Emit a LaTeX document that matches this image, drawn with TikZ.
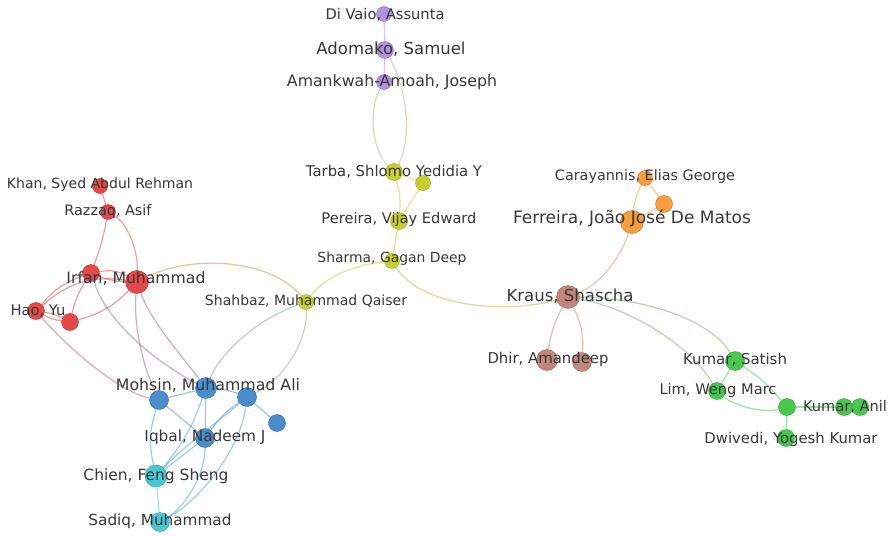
\documentclass[tikz,border=0pt]{standalone}
\usepackage{fontspec}
\setmainfont{DejaVu Sans}
\usepackage{graphicx}
\definecolor{cpur}{RGB}{176,140,222}
\definecolor{cyel}{RGB}{196,204,40}
\definecolor{cred}{RGB}{226,64,64}
\definecolor{cblu}{RGB}{66,135,200}
\definecolor{ccya}{RGB}{64,196,210}
\definecolor{cora}{RGB}{246,152,52}
\definecolor{cbrn}{RGB}{192,128,118}
\definecolor{cgrn}{RGB}{64,196,72}
\definecolor{labc}{RGB}{55,55,55}
\newcommand{\lab}[2]{\resizebox{#1pt}{!}{#2}}
\pgfdeclarelayer{bg}
\pgfdeclarelayer{edges}
\pgfsetlayers{bg,edges,main}
\tikzset{
  dot/.style={circle, inner sep=0pt, fill=#1, draw=#1!80!black, line width=0.4pt, fill opacity=0.95},
  edge/.style={draw=#1, line width=1.2pt, draw opacity=0.5},
  lbl/.style={inner sep=0pt, text=labc}
}
\begin{document}
\begin{tikzpicture}[x=1pt,y=-1pt]
\begin{pgfonlayer}{bg}
\fill[white] (0,0) rectangle (889,536);
\end{pgfonlayer}
\useasboundingbox (0,0) rectangle (889,536);
% ---------- nodes (circles)
\node[dot=cpur, minimum size=15pt] (p1) at (384,14) {};
\node[dot=cpur, minimum size=17pt] (p2) at (385,50) {};
\node[dot=cpur, minimum size=15pt] (p3) at (384,82) {};
\node[dot=cyel, minimum size=17pt] (y1) at (394,172) {};
\node[dot=cyel, minimum size=15pt] (y2) at (423,183) {};
\node[dot=cyel, minimum size=17pt] (y3) at (399,221) {};
\node[dot=cyel, minimum size=15pt] (y4) at (392,261) {};
\node[dot=cyel, minimum size=15pt] (y5) at (306,302) {};
\node[dot=cred, minimum size=15pt] (r1) at (100,186) {};
\node[dot=cred, minimum size=15pt] (r2) at (108,212) {};
\node[dot=cred, minimum size=17pt] (r3) at (91,273) {};
\node[dot=cred, minimum size=23pt] (r4) at (137,282) {};
\node[dot=cred, minimum size=17pt] (r5) at (36,311) {};
\node[dot=cred, minimum size=17pt] (r6) at (70,322) {};
\node[dot=cblu, minimum size=21pt] (b1) at (206,388) {};
\node[dot=cblu, minimum size=19pt] (b2) at (159,400) {};
\node[dot=cblu, minimum size=19pt] (b3) at (247,397) {};
\node[dot=cblu, minimum size=17pt] (b4) at (277,423) {};
\node[dot=cblu, minimum size=19pt] (b5) at (205,438) {};
\node[dot=ccya, minimum size=22pt] (c1) at (156,476) {};
\node[dot=ccya, minimum size=19pt] (c2) at (160,522) {};
\node[dot=cora, minimum size=15pt] (o1) at (645,178) {};
\node[dot=cora, minimum size=17pt] (o2) at (664,204) {};
\node[dot=cora, minimum size=23pt] (o3) at (632,222) {};
\node[dot=cbrn, minimum size=23pt] (k1) at (568,297) {};
\node[dot=cbrn, minimum size=21pt] (k2) at (547,360) {};
\node[dot=cbrn, minimum size=19pt] (k3) at (582,362) {};
\node[dot=cgrn, minimum size=19pt] (g1) at (735,361) {};
\node[dot=cgrn, minimum size=17pt] (g2) at (717,391) {};
\node[dot=cgrn, minimum size=17pt] (g3) at (787,407) {};
\node[dot=cgrn, minimum size=17pt] (g4) at (844,407) {};
\node[dot=cgrn, minimum size=17pt] (g5) at (860,407) {};
\node[dot=cgrn, minimum size=17pt] (g6) at (786,438) {};
% ---------- edges
\begin{pgfonlayer}{edges}
\draw[edge=cpur] (p1) -- (p2);
\draw[edge=cpur] (p2) -- (p3);
\draw[edge=cpur!50!cyel] (p3) .. controls (368,110) and (372,150) .. (y1);
\draw[edge=cpur!50!cyel] (p2) .. controls (408,90) and (412,140) .. (y1);
\draw[edge=cyel] (y1) -- (y2);
\draw[edge=cyel] (y1) to[bend left=10] (y3);
\draw[edge=cyel] (y2) -- (y3);
\draw[edge=cyel] (y3) -- (y4);
\draw[edge=cyel] (y4) .. controls (350,265) and (322,280) .. (y5);
\draw[edge=cyel!60!cbrn] (y4) .. controls (420,305) and (500,315) .. (k1);
\draw[edge=cyel!50!cred] (y5) .. controls (270,258) and (190,255) .. (r4);
\draw[edge=cyel!40!cblu] (y5) .. controls (260,318) and (222,350) .. (b1);
\draw[edge=cyel!60!cblu] (y5) .. controls (308,340) and (285,378) .. (b3);
\draw[edge=cred] (r1) -- (r2);
\draw[edge=cred] (r2) to[bend left=5] (r3);
\draw[edge=cred] (r2) .. controls (130,225) and (138,255) .. (r4);
\draw[edge=cred] (r3) to[bend left=20] (r4);
\draw[edge=cred] (r3) to[bend right=10] (r4);
\draw[edge=cred] (r5) to[bend right=10] (r6);
\draw[edge=cred] (r5) to[bend left=10] (r6);
\draw[edge=cred] (r5) to[bend left=15] (r3);
\draw[edge=cred] (r5) to[bend left=25] (r4);
\draw[edge=cred] (r6) to[bend left=10] (r3);
\draw[edge=cred] (r6) to[bend right=15] (r4);
\draw[edge=cred!70!cblu] (r5) .. controls (70,350) and (120,392) .. (b2);
\draw[edge=cred!40!cblu] (r3) .. controls (110,330) and (170,370) .. (b1);
\draw[edge=cred!50!cblu] (r4) .. controls (133,330) and (145,370) .. (b2);
\draw[edge=cred!60!cblu] (r4) .. controls (150,320) and (185,360) .. (b1);
\draw[edge=cblu] (b1) -- (b2);
\draw[edge=cblu] (b1) to[bend left=8] (b3);
\draw[edge=cblu] (b3) -- (b4);
\draw[edge=cblu] (b1) -- (b5);
\draw[edge=cblu] (b2) -- (b5);
\draw[edge=cblu] (b3) to[bend right=10] (b5);
\draw[edge=cblu!60!ccya] (b3) .. controls (220,420) and (180,450) .. (c1);
\draw[edge=cblu!60!ccya] (b5) -- (c1);
\draw[edge=cblu!60!ccya] (b2) to[bend right=15] (c1);
\draw[edge=cblu!60!ccya] (b1) to[bend left=10] (c1);
\draw[edge=cblu!50!ccya] (b5) .. controls (205,480) and (180,510) .. (c2);
\draw[edge=cblu!50!ccya] (b3) .. controls (240,450) and (200,500) .. (c2);
\draw[edge=ccya] (c1) -- (c2);
\draw[edge=cora] (o1) -- (o2);
\draw[edge=cora] (o1) to[bend right=10] (o3);
\draw[edge=cora] (o2) -- (o3);
\draw[edge=cora!60!cbrn] (o3) .. controls (620,260) and (598,285) .. (k1);
\draw[edge=cbrn] (k1) to[bend right=10] (k2);
\draw[edge=cbrn] (k1) to[bend left=15] (k3);
\draw[edge=cbrn!40!cgrn] (k1) .. controls (650,298) and (712,322) .. (g1);
\draw[edge=cbrn!40!cgrn] (k1) .. controls (630,308) and (690,345) .. (g2);
\draw[edge=cgrn] (g1) -- (g2);
\draw[edge=cgrn] (g1) to[bend left=8] (g3);
\draw[edge=cgrn] (g2) .. controls (740,410) and (770,412) .. (g3);
\draw[edge=cgrn] (g3) -- (g4);
\draw[edge=cgrn] (g4) -- (g5);
\draw[edge=cgrn] (g3) -- (g6);
\end{pgfonlayer}
% ---------- labels
\node[lbl] (tp1) at (385,15) {\lab{119}{Di Vaio, Assunta}};
\node[lbl] (tp2) at (391,49) {\lab{149}{Adomako, Samuel}};
\node[lbl] (tp3) at (392,82) {\lab{210}{Amankwah-Amoah, Joseph}};
\node[lbl] (ty1) at (394,172) {\lab{176}{Tarba, Shlomo Yedidia Y}};
\node[lbl] (ty3) at (399,219) {\lab{155}{Pereira, Vijay Edward}};
\node[lbl] (ty4) at (392,259) {\lab{149}{Sharma, Gagan Deep}};
\node[lbl] (ty5) at (306,301) {\lab{202}{Shahbaz, Muhammad Qaiser}};
\node[lbl] (tr1) at (100,185) {\lab{186}{Khan, Syed Abdul Rehman}};
\node[lbl] (tr2) at (108,212) {\lab{87}{Razzaq, Asif}};
\node[lbl] (tr4) at (136,278) {\lab{139}{Irfan, Muhammad}};
\node[lbl] (tr5) at (38,311) {\lab{55}{Hao, Yu}};
\node[lbl] (tb1) at (208,385) {\lab{184}{Mohsin, Muhammad Ali}};
\node[lbl] (tb5) at (205,437) {\lab{121}{Iqbal, Nadeem J}};
\node[lbl] (tc1) at (156,476) {\lab{145}{Chien, Feng Sheng}};
\node[lbl] (tc2) at (160,521) {\lab{143}{Sadiq, Muhammad}};
\node[lbl] (to1) at (645,177) {\lab{180}{Carayannis, Elias George}};
\node[lbl] (to3) at (632,218) {\lab{238}{Ferreira, João José De Matos}};
\node[lbl] (tk1) at (570,296) {\lab{127}{Kraus, Shascha}};
\node[lbl] (tk2) at (548,359) {\lab{121}{Dhir, Amandeep}};
\node[lbl] (tg1) at (735,360) {\lab{104}{Kumar, Satish}};
\node[lbl] (tg2) at (718,390) {\lab{117}{Lim, Weng Marc}};
\node[lbl] (tg4) at (845,407) {\lab{84}{Kumar, Anil}};
\node[lbl] (tg6) at (791,439) {\lab{173}{Dwivedi, Yogesh Kumar}};
\end{tikzpicture}
\end{document}
